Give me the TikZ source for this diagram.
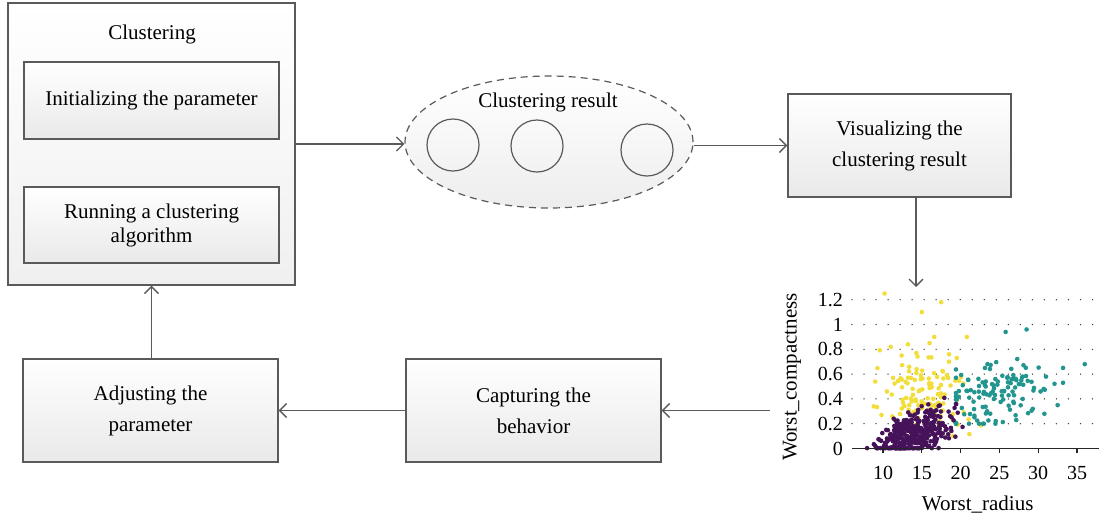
\documentclass[tikz,border=0pt]{standalone}
\usepackage{fontspec}
\setmainfont{Liberation Serif}
\usetikzlibrary{arrows.meta,shapes.geometric}
\definecolor{edgegray}{HTML}{5A5A5A}
\definecolor{shadebot}{HTML}{E9E9E9}
\definecolor{vpurple}{HTML}{46135A}
\definecolor{vteal}{HTML}{23958F}
\definecolor{vyellow}{HTML}{F2DE3A}
\tikzset{
  procbox/.style={draw=edgegray, line width=1.4pt, top color=white, bottom color=shadebot,
    minimum width=255pt, inner sep=0pt, align=center},
  outerbox/.style={draw=edgegray, line width=1.4pt, top color=white, bottom color=shadebot!70,
    minimum width=287pt, minimum height=282pt, inner sep=0pt},
  flow/.style={draw=edgegray, line width=1.3pt, -{Straight Barb[length=7pt,width=14pt,line width=1.3pt]}},
  clcircle/.style={circle, draw=edgegray, line width=1.2pt, minimum size=52pt, inner sep=0pt},
  ptp/.style={fill=vpurple},
  ptt/.style={fill=vteal},
  pty/.style={fill=vyellow},
  ticklab/.style={font=\fontsize{20}{22}\selectfont, inner sep=0pt},
}
\newcommand{\dotr}{2.3pt}
\begin{document}
\begin{tikzpicture}[x=1pt,y=-1pt, font=\fontsize{21}{24}\selectfont]
\useasboundingbox (0,0) rectangle (1099,520);

% Clustering block
\node[outerbox] (clu) at (151.5,144) {};
\node[inner sep=0pt] (clutitle) at (152,34) {Clustering};
\node[procbox, minimum height=77pt] (init) at (151.5,100.5) {Initializing the parameter};
\node[procbox, minimum height=76pt, font=\fontsize{21}{24}\selectfont] (run) at (151.5,225)
  {Running a clustering\\algorithm};

% Clustering result ellipse
\node[ellipse, draw=edgegray, dashed, dash pattern=on 7pt off 5pt, line width=1.2pt,
  top color=white, bottom color=shadebot!80, minimum width=288pt, minimum height=132pt,
  inner sep=0pt] (res) at (549,142) {};
\node[inner sep=0pt] (restitle) at (548,102) {Clustering result};
\node[clcircle] (c1) at (453,145) {};
\node[clcircle] (c2) at (537,146) {};
\node[clcircle] (c3) at (647,150) {};

% Visualizing
\node[procbox, minimum width=223pt, minimum height=103pt, font=\fontsize{21}{31}\selectfont]
  (vis) at (899.5,145.5) {Visualizing the\\clustering result};

% Bottom row
\node[procbox, minimum height=103pt, font=\fontsize{21}{31}\selectfont]
  (cap) at (533.5,410.5) {Capturing the\\behavior};
\node[procbox, minimum height=103pt, font=\fontsize{21}{31}\selectfont]
  (adj) at (150.5,410.5) {Adjusting the\\parameter};

\coordinate (plottop) at (916,287);
\coordinate (plotleft) at (770,410.5);

% Connectors
\draw[flow] (clu.east) -- (clu.east -| res.west);
\draw[flow] (res.east |- vis.west) -- (vis.west);
\draw[flow] (vis.south -| plottop) -- (plottop);
\draw[flow] (plotleft) -- (cap.east);
\draw[flow] (cap.west) -- (adj.east);
\draw[flow] (adj.north -| clu.south) -- (clu.south);

% Scatter plot
\begin{scope}[shift={(805.4,448.5)}, x=7.76pt, y=124pt]
  % dotted grid
  \foreach \v in {0.2,0.4,...,1.21} {
    \foreach \u in {6.0,7.55,...,37.4} {
      \fill[black!75] (\u,\v) circle[radius=0.75pt];
    }
  }
  % y tick labels
  \foreach \v/\l in {0/0,0.2/0.2,0.4/0.4,0.6/0.6,0.8/0.8,1/1,1.2/1.2} {
    \node[ticklab, anchor=east] (yl\l) at (4.85,\v) {\l};
  }
  % x tick labels
  \foreach \u in {10,15,20,25,30,35} {
    \node[ticklab] (xl\u) at (\u,-0.2) {\u};
  }
  \node[inner sep=0pt] (xlab) at (22.2,-0.456) {Worst\_radius};
  \node[inner sep=0pt, rotate=90] (ylab) at (-1.73,0.577) {Worst\_compactness};

  \pgfmathsetseed{2718}
  % yellow cluster
  \foreach \i in {1,...,115} {
    \pgfmathsetmacro\ra{rand}\pgfmathsetmacro\rb{rand}\pgfmathsetmacro\rc{rand}
    \pgfmathsetmacro\rd{rand}\pgfmathsetmacro\re{rand}\pgfmathsetmacro\rf{rand}
    \pgfmathsetmacro\px{max(9,16.0+2.9*(\ra+\rb+\rc))}
    \pgfmathsetmacro\py{max(0.1,0.43+0.17*(\rd+\re+\rf))}
    \fill[pty] (\px,\py) circle[radius=\dotr];
  }
  \foreach \p in {(10.2,1.25),(15,1.1),(17.5,1.18),(11,0.82),(13.2,0.84),(16,0.85),
                  (16.6,0.9),(20.8,0.9),(9,0.54),(8.8,0.34),(12.4,0.75),(14.3,0.77),
                  (10.5,0.46),(9.8,0.27),(19.5,0.73),(18.5,0.7)} {
    \fill[pty] \p circle[radius=\dotr];
  }
  % teal cluster
  \foreach \i in {1,...,115} {
    \pgfmathsetmacro\ra{rand}\pgfmathsetmacro\rb{rand}\pgfmathsetmacro\rc{rand}
    \pgfmathsetmacro\rd{rand}\pgfmathsetmacro\re{rand}\pgfmathsetmacro\rf{rand}
    \pgfmathsetmacro\px{max(19.4,24.2+3.0*(\ra+\rb+\rc))}
    \pgfmathsetmacro\py{max(0.2,0.43+0.012*(\px-24)+0.12*(\rd+\re+\rf))}
    \fill[ptt] (\px,\py) circle[radius=\dotr];
  }
  \foreach \p in {(25.8,0.94),(28.5,0.96),(36,0.68),(33.2,0.65),(30.8,0.28),(32.5,0.35),
                  (33.2,0.53),(31,0.58),(29.3,0.32),(28,0.58),(30.3,0.46),(30.7,0.48),
                  (28,0.4),(27.5,0.52)} {
    \fill[ptt] \p circle[radius=\dotr];
  }
  % purple cluster
  \foreach \i in {1,...,350} {
    \pgfmathsetmacro\ra{rand}\pgfmathsetmacro\rb{rand}\pgfmathsetmacro\rc{rand}
    \pgfmathsetmacro\rd{rand}\pgfmathsetmacro\re{rand}\pgfmathsetmacro\rf{rand}
    \pgfmathsetmacro\px{max(7.9,14.0+2.4*(\ra+\rb+\rc))}
    \pgfmathsetmacro\py{min(0.44,max(0.003,0.12+0.022*(\px-13.8)+0.085*(\rd+\re+\rf)))}
    \fill[ptp] (\px,\py) circle[radius=\dotr];
  }
  % x axis
  \draw[black!85, line width=1.6pt] (6.0,0) -- (37.9,0);
  \foreach \u in {10,15,...,35} {
    \draw[black!85, line width=1.3pt] (\u,0) -- (\u,-0.04);
  }
\end{scope}
\end{tikzpicture}
\end{document}
